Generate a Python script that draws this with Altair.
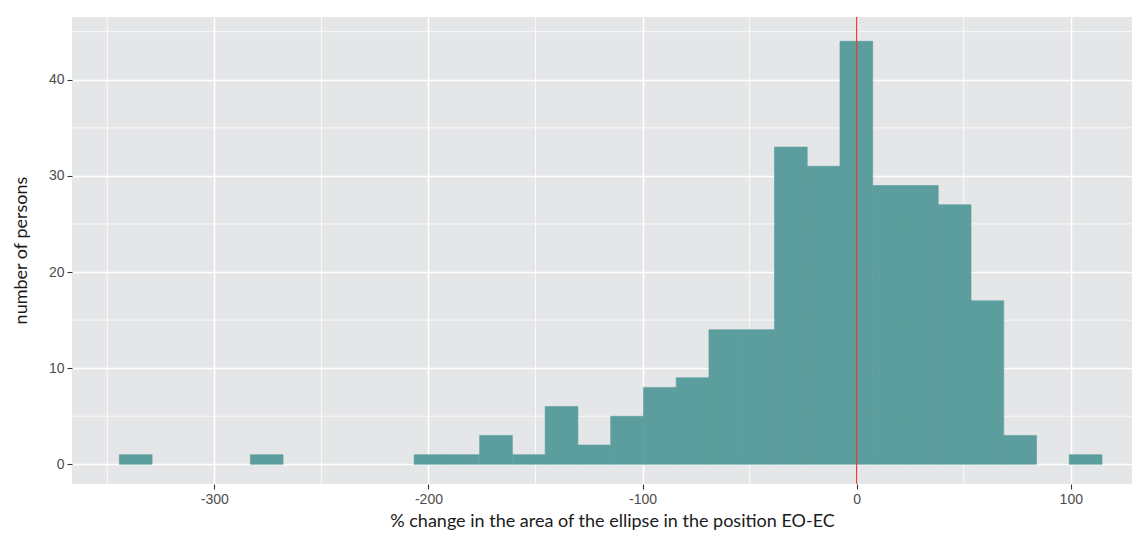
import altair as alt
import pandas as pd

# Histogram bin edges (% change) and counts
bin_edges = [-344.4, -329.1, -313.8, -298.5, -283.2, -267.9, -252.6, -237.3,
             -222.0, -206.7, -191.4, -176.1, -160.8, -145.5, -130.2, -114.9,
             -99.6, -84.3, -69.0, -53.7, -38.4, -23.1, -7.8, 7.5, 22.8, 38.1,
             53.4, 68.7, 84.0, 99.3, 114.6]
counts = [1, 0, 0, 0, 1, 0, 0, 0, 0, 1, 1, 3, 1, 6, 2, 5, 8, 9, 14, 14,
          33, 31, 44, 29, 29, 27, 17, 3, 0, 1]

x_major = [-300, -200, -100, 0, 100]
x_minor = [-350, -250, -150, -50, 50]
y_major = [0, 10, 20, 30, 40]
y_minor = [5, 15, 25, 35, 45]
ref_line = [0]

x_domain = [-366.5, 128.6]
y_domain = [-2.05, 46.53]

bars = pd.DataFrame({"start": bin_edges[:-1], "end": bin_edges[1:], "count": counts})

X_TITLE = "% change in the area of the ellipse in the position EO-EC"
Y_TITLE = "number of persons"

xscale = alt.Scale(domain=x_domain, nice=False, zero=False)
yscale = alt.Scale(domain=y_domain, nice=False, zero=False)

x_axis = alt.Axis(values=x_major, grid=True, gridColor="white", gridWidth=1.5,
                  domain=False, tickColor="#333333", tickSize=5, tickWidth=1.1,
                  labelColor="#4D4D4D", labelFont="Liberation Sans", labelFontSize=14,
                  labelPadding=3, labelExpr="toString(datum.value)",
                  title=X_TITLE, titleFont="Lato", titleFontSize=18,
                  titleFontWeight="normal", titleColor="#1A1A1A",
                  titleX=540, titleY=42, titleBaseline="alphabetic")
y_axis = alt.Axis(values=y_major, grid=True, gridColor="white", gridWidth=1.5,
                  domain=False, tickColor="#333333", tickSize=5, tickWidth=1.1,
                  labelColor="#4D4D4D", labelFont="Liberation Sans", labelFontSize=14,
                  labelPadding=3, labelExpr="toString(datum.value)",
                  title=Y_TITLE, titleFont="Lato", titleFontSize=18,
                  titleFontWeight="normal", titleColor="#1A1A1A", titleAngle=-90,
                  titleX=-46, titleY=233, titleBaseline="alphabetic", titleAlign="center")

minor_x = alt.Chart(pd.DataFrame({"start": x_minor})).mark_rule(
    color="white", strokeWidth=0.8).encode(
    x=alt.X("start:Q", scale=xscale, axis=x_axis, title=X_TITLE))

minor_y = alt.Chart(pd.DataFrame({"count": y_minor})).mark_rule(
    color="white", strokeWidth=0.8).encode(
    y=alt.Y("count:Q", scale=yscale, axis=y_axis, title=Y_TITLE))

hist = alt.Chart(bars).transform_filter("datum.count > 0").mark_rect(
    color="#5B9E9D", stroke="#5B9E9D", strokeWidth=0.6).encode(
    x=alt.X("start:Q", scale=xscale, axis=x_axis, title=X_TITLE),
    x2="end:Q",
    y=alt.Y("count:Q", scale=yscale, axis=y_axis, title=Y_TITLE),
    y2=alt.datum(0),
)

rule = alt.Chart(pd.DataFrame({"start": ref_line})).mark_rule(
    color="#E5413B", strokeWidth=1.3).encode(
    x=alt.X("start:Q", scale=xscale, axis=x_axis, title=X_TITLE))

chart = alt.layer(minor_x, minor_y, hist, rule).properties(
    width=1060, height=467,
    autosize=alt.AutoSizeParams(type="none"),
    padding={"left": 64, "top": 9, "right": 0, "bottom": 46},
    background="white",
).configure_view(fill="#E5E6E8", stroke=None)

chart.save("out.html", embed_options={"renderer": "svg", "actions": False})
